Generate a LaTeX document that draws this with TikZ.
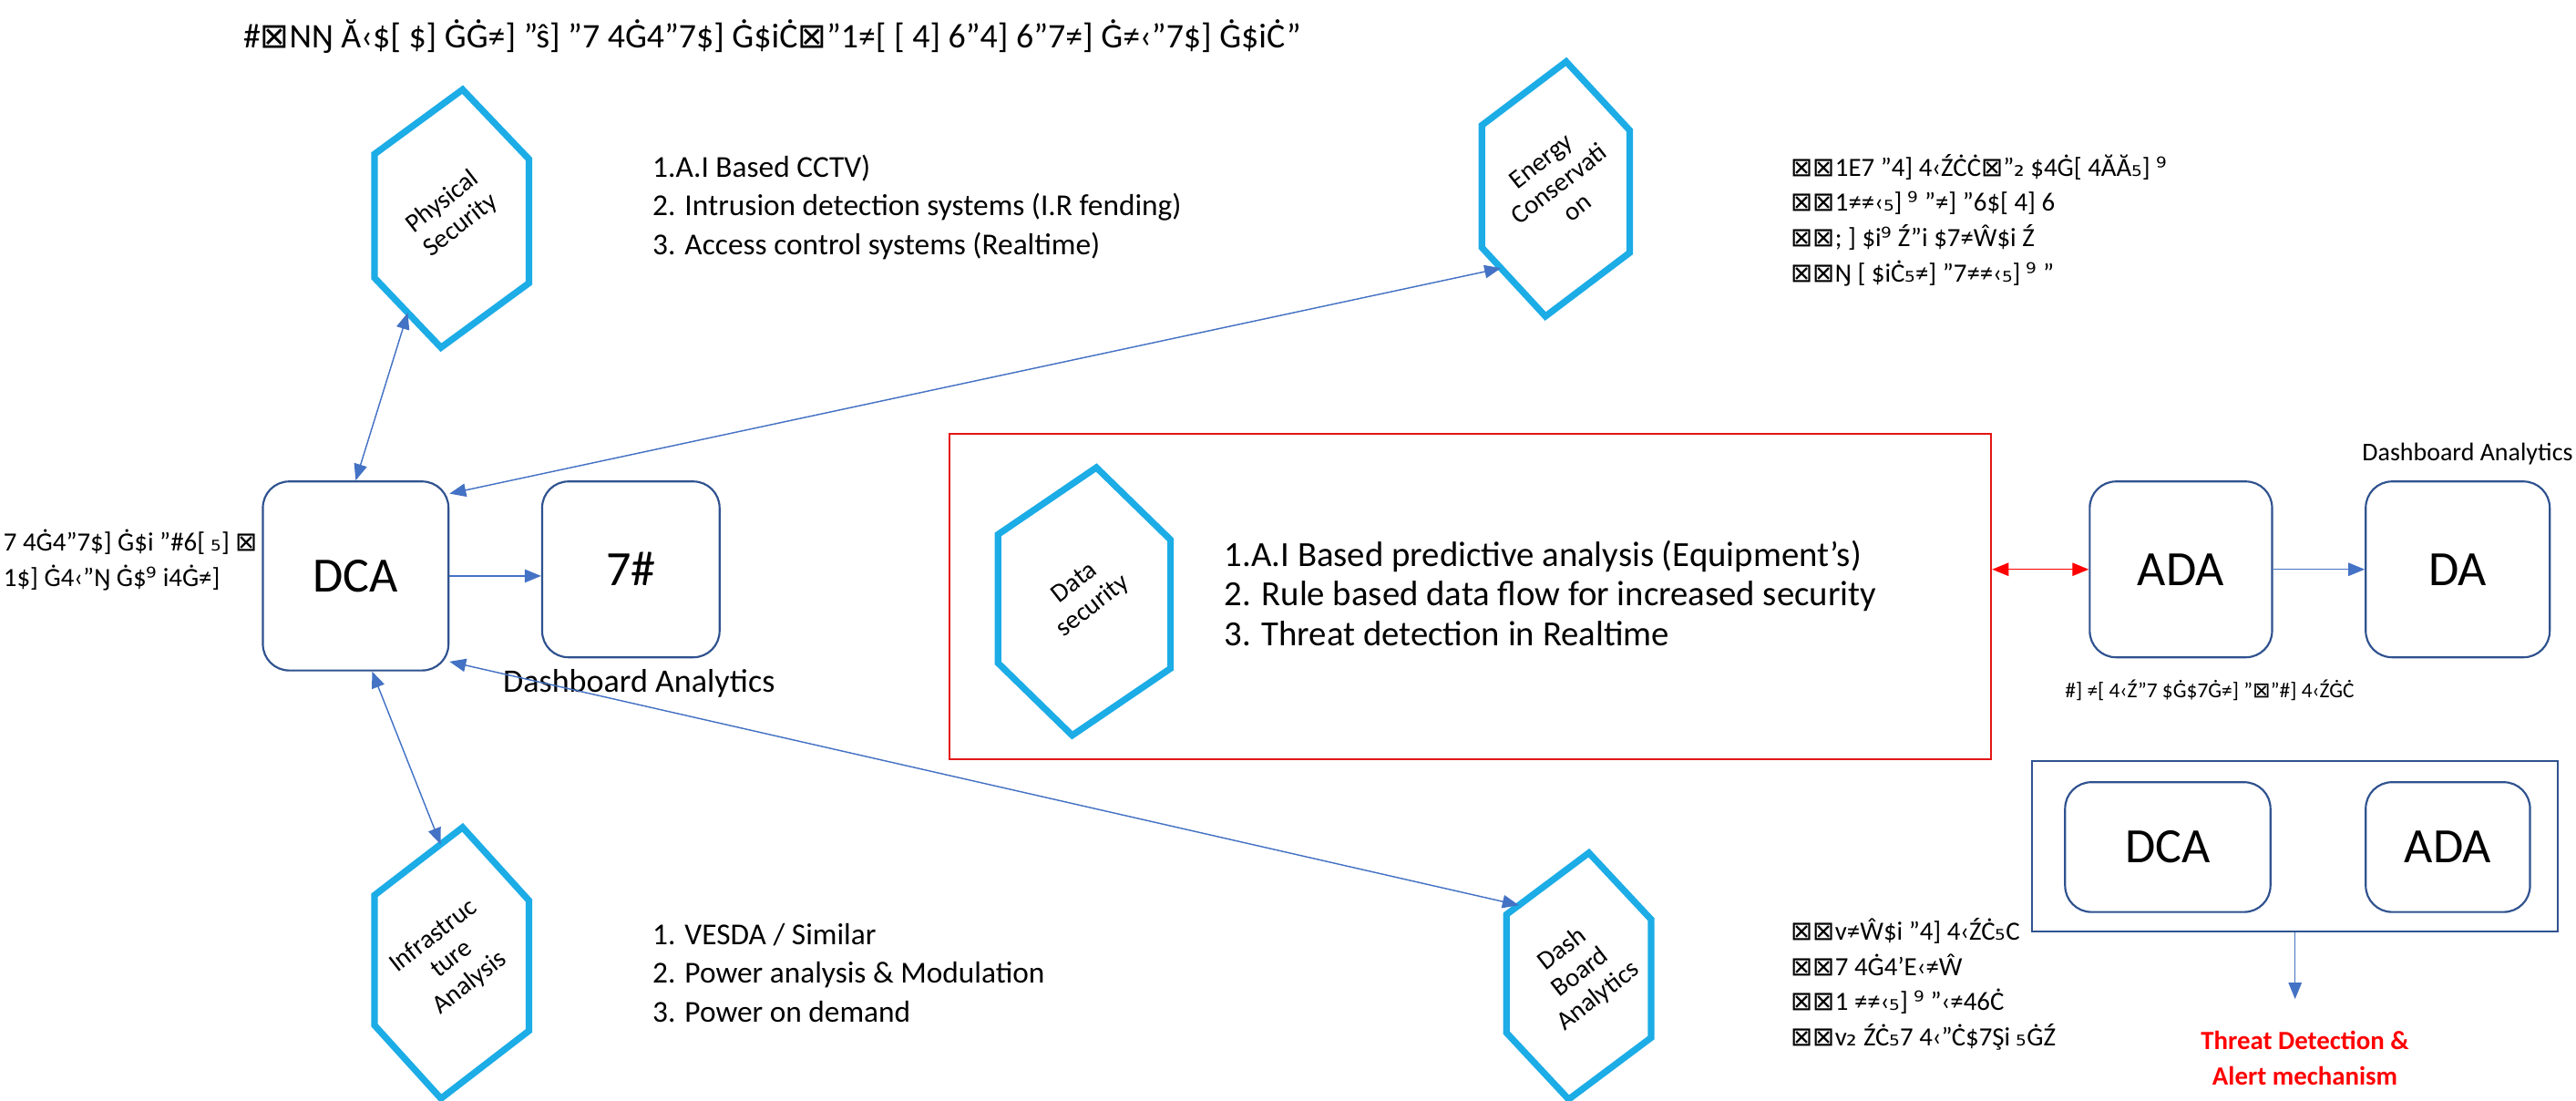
\documentclass[tikz,border=0pt]{standalone}
\usepackage{fontspec}
\setmainfont{Carlito}
\newfontfamily\djv{DejaVu Sans}
\usetikzlibrary{arrows.meta,calc,positioning}
\definecolor{hexblau}{RGB}{28,172,230}
\definecolor{boxblau}{RGB}{47,82,143}
\definecolor{pfeilblau}{RGB}{68,114,196}
\definecolor{rahmenrot}{RGB}{228,22,22}
\newcommand{\bx}{{\djv ⊠}}
\newcommand{\hn}{{\djv ⁹}}
\newcommand{\tf}{{\djv ₅}}
\newcommand{\tz}{{\djv ₂}}
% Sechseck: Name, Mitte, Breite, Hoehe
\newcommand{\sechseck}[4]{%
  \draw[hexa, shift={#2}] (0.07*#3,-0.5*#4) coordinate (#1-1) -- (0.5*#3,-0.23*#4) coordinate (#1-2)
    -- (0.5*#3,0.25*#4) coordinate (#1-3) -- (-0.07*#3,0.5*#4) coordinate (#1-4)
    -- (-0.5*#3,0.23*#4) coordinate (#1-5) -- (-0.5*#3,-0.25*#4) coordinate (#1-6) -- cycle;}

\begin{document}
\begin{tikzpicture}[x=1pt, y=-1pt, >={Triangle[length=10pt,width=8pt]},
	hexa/.style={draw=hexblau, line width=4pt, line join=miter},
	hexlabel/.style={rotate=38, align=center, inner sep=0pt, font=\fontsize{16}{18}\selectfont},
	box/.style={draw=boxblau, line width=1.2pt, rounded corners=16pt, font=\fontsize{30}{30}\selectfont},
	liste/.style={anchor=west, align=left, inner sep=0pt, font=\fontsize{18.5}{23.5}\selectfont},
	gliste/.style={anchor=west, align=left, inner sep=0pt, font=\fontsize{16}{21.5}\selectfont},
	pfeil/.style={color=pfeilblau, line width=0.8pt}]
	\useasboundingbox (0,0) rectangle (1568,670);
	% Titel
	\node[font=\fontsize{21}{21}\selectfont] (titel) at (470,22) {\#\bx NŊ Ă‹\$[ \$] ĠĠ≠] "ŝ] "7 4Ġ4"7\$] Ġ\$iĊ\bx"1≠[ [ 4] 6"4] 6"7≠] Ġ≠‹"7\$] Ġ\$iĊ"};
	% Sechsecke
	\sechseck{phys}{(275,133)}{94}{157}
	\sechseck{energy}{(947,115)}{90}{155}
	\sechseck{data}{(660,366)}{105}{163}
	\sechseck{infra}{(275,586)}{94}{165}
	\sechseck{dash}{(961,594)}{88}{150}
	\node[hexlabel] (physt) at (275,130) {Physical\\Security};
	\node[hexlabel] (energyt) at (949,112) {Energy\\Conservati\\on};
	\node[hexlabel] (datat) at (660,362) {Data\\security};
	\node[hexlabel] (infrat) at (275,584) {Infrastruc\\ture\\Analysis};
	\node[hexlabel] (dasht) at (962,592) {Dash\\Board\\Analytics};
	% Listen
	\node[liste] (physl) at (397,126) {1.A.I Based CCTV)\\2. Intrusion detection systems (I.R fending)\\3. Access control systems (Realtime)};
	\node[gliste] (energyl) at (1090,134) {\bx\bx1E7 "4] 4‹ŹĊĊ\bx"\tz{} \$4Ġ[ 4ĂĂ\tf] \hn\\\bx\bx1≠≠‹\tf] \hn{} "≠] "6\$[ 4] 6\\\bx\bx; ] \$i\hn{} Ź"i \$7≠Ŵ\$i Ź\\\bx\bx Ŋ [ \$iĊ\tf≠] "7≠≠‹\tf] \hn{} "};
	\node[liste, font=\fontsize{21.5}{24}\selectfont] (datal) at (745,361) {1.A.I Based predictive analysis (Equipment's)\\2. Rule based data flow for increased security\\3. Threat detection in Realtime};
	\node[liste] (infral) at (397,592) {1. VESDA / Similar\\2. Power analysis \& Modulation\\3. Power on demand};
	\node[gliste] (dashl) at (1090,599) {\bx\bx v≠Ŵ\$i "4] 4‹ŹĊ\tf C\\\bx\bx7 4Ġ4'E‹≠Ŵ\\\bx\bx1 ≠≠‹\tf] \hn{} "‹≠46Ċ\\\bx\bx v\tz{} ŹĊ\tf7 4‹"Ċ\$7Şi \tf ĠŹ};
	\node[gliste] (links) at (2,341) {7 4Ġ4"7\$] Ġ\$i "\#6[ \tf] \bx\\1\$] Ġ4‹"Ŋ Ġ\$\hn{} i4Ġ≠]};
	% Kaesten
	\node[box, minimum width=113pt, minimum height=115pt] (dca) at (216.5,350.5) {DCA};
	\node[box, minimum width=108pt, minimum height=107pt] (db) at (384,346.5) {7\#};
	\node[font=\fontsize{20}{20}\selectfont] (dbt) at (389,416) {Dashboard Analytics};
	\node[draw=rahmenrot, line width=1.2pt, minimum width=634pt, minimum height=198pt] (rahmen) at (895,363) {};
	\node[box, minimum width=111pt, minimum height=107pt] (ada) at (1327.5,346.5) {ADA};
	\node[box, minimum width=112pt, minimum height=107pt] (da) at (1496,346.5) {DA};
	\node[font=\fontsize{15.5}{15.5}\selectfont] (dat) at (1502,276) {Dashboard Analytics};
	\node[font=\fontsize{13}{13}\selectfont] (adat) at (1345,420) {\#] ≠[ 4‹Ź"7 \$Ġ\$7Ġ≠] "\bx"\#] 4‹ŹĠĊ};
	\node[draw=boxblau, line width=1.2pt, minimum width=320pt, minimum height=104pt] (gruppe) at (1397,515) {};
	\node[box, minimum width=125pt, minimum height=79pt] (dca2) at (1319.5,515.5) {DCA};
	\node[box, minimum width=100pt, minimum height=79pt] (ada2) at (1490,515.5) {ADA};
	\node[text=red, align=center, font=\fontsize{16}{22}\selectfont\bfseries] (warn) at (1403,644) {Threat Detection \&\\Alert mechanism};
	\coordinate (warnpfeil) at (1397,608);
	% Pfeile
	\draw[pfeil,<->] (dca.north) -- ($(phys-4)!0.5!(phys-5)$);
	\draw[pfeil,<->] ($(dca.north east)+(0,8)$) -- ($(energy-4)!0.7!(energy-5)$);
	\draw[pfeil,->] (dca.east) -- (dca.east -| db.west);
	\draw[pfeil,<->] ($(dca.south)+(10,0)$) -- ($(infra-1)!0.25!(infra-6)$);
	\draw[pfeil,<->] ($(dca.south east)+(0,-6)$) -- ($(dash-6)!0.15!(dash-1)$);
	\draw[<->, red, line width=0.8pt] (ada.west -| rahmen.east) -- (ada.west);
	\draw[pfeil,->] (ada.east) -- (da.west);
	\draw[pfeil,->] (gruppe.south) -- (warnpfeil);
\end{tikzpicture}
\end{document}
